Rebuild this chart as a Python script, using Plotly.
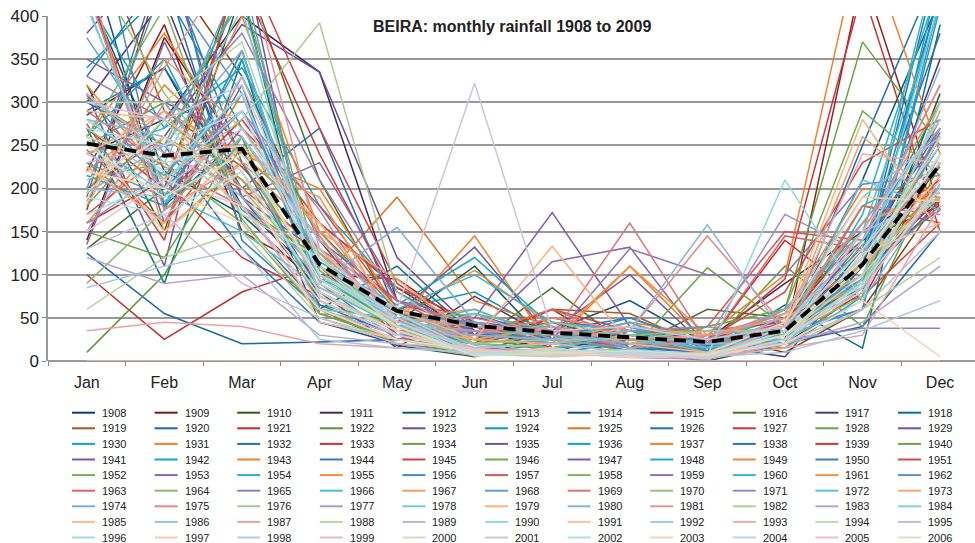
import plotly.graph_objects as go

months = ["Jan", "Feb", "Mar", "Apr", "May", "Jun", "Jul", "Aug", "Sep", "Oct", "Nov", "Dec"]
years = list(range(1908, 2007))

rain = {
1908: [285, 340, 180, 95, 40, 12, 8, 12, 3, 30, 95, 260],
1909: [140, 375, 240, 160, 85, 30, 45, 20, 15, 60, 140, 180],
1910: [320, 150, 430, 60, 18, 5, 30, 10, 0, 20, 80, 310],
1911: [240, 280, 400, 335, 70, 40, 10, 35, 25, 90, 150, 200],
1912: [430, 220, 170, 85, 45, 110, 15, 25, 12, 35, 210, 420],
1913: [175, 460, 330, 140, 30, 25, 60, 5, 30, 10, 60, 190],
1914: [480, 180, 260, 45, 20, 10, 35, 70, 20, 40, 120, 280],
1915: [220, 390, 150, 100, 95, 35, 20, 30, 10, 25, 450, 175],
1916: [130, 200, 460, 210, 50, 20, 85, 15, 60, 50, 90, 230],
1917: [300, 420, 190, 80, 15, 75, 25, 40, 18, 5, 110, 350],
1918: [270, 90, 350, 60, 110, 30, 10, 20, 8, 65, 15, 390],
1919: [520, 290, 225, 130, 40, 20, 60, 55, 15, 30, 180, 160],
1920: [125, 55, 20, 22, 25, 15, 12, 8, 10, 20, 40, 150],
1921: [100, 25, 80, 110, 30, 45, 35, 25, 20, 140, 70, 240],
1922: [10, 100, 250, 65, 45, 25, 15, 30, 12, 40, 160, 270],
1923: [200, 260, 390, 335, 120, 35, 20, 25, 15, 35, 100, 190],
1924: [340, 430, 270, 150, 60, 80, 30, 12, 25, 50, 130, 300],
1925: [230, 160, 310, 90, 190, 70, 40, 20, 30, 15, 85, 215],
1926: [290, 340, 200, 270, 55, 30, 25, 45, 10, 30, 250, 460],
1927: [160, 210, 120, 75, 35, 20, 50, 30, 20, 95, 430, 150],
1928: [250, 300, 180, 120, 40, 15, 20, 10, 40, 60, 370, 250],
1929: [310, 110, 480, 55, 25, 50, 35, 100, 15, 25, 115, 175],
1930: [420, 270, 340, 180, 80, 30, 25, 20, 12, 40, 90, 430],
1931: [195, 320, 230, 100, 45, 145, 15, 30, 25, 55, 200, 190],
1932: [330, 450, 160, 65, 30, 20, 40, 15, 10, 20, 130, 380],
1933: [270, 200, 440, 240, 70, 35, 30, 25, 35, 45, 150, 210],
1934: [150, 120, 260, 60, 20, 10, 20, 40, 15, 110, 40, 230],
1935: [380, 480, 190, 125, 55, 132, 25, 20, 30, 30, 140, 260],
1936: [215, 180, 360, 90, 40, 25, 45, 35, 12, 15, 75, 450],
1937: [260, 380, 240, 200, 60, 40, 20, 110, 20, 60, 160, 200],
1938: [300, 250, 130, 45, 25, 30, 35, 50, 18, 35, 110, 470],
1939: [435, 190, 280, 160, 85, 45, 15, 30, 10, 25, 95, 185],
1940: [180, 280, 210, 100, 40, 20, 30, 10, 108, 40, 180, 225],
1941: [440, 160, 320, 70, 30, 55, 25, 20, 15, 50, 130, 270],
1942: [260, 350, 175, 115, 65, 120, 40, 25, 25, 30, 60, 420],
1943: [320, 210, 400, 150, 50, 25, 20, 45, 30, 100, 500, 240],
1944: [190, 470, 230, 80, 35, 40, 30, 15, 12, 20, 110, 430],
1945: [275, 140, 470, 270, 90, 30, 60, 35, 20, 45, 75, 160],
1946: [210, 230, 160, 55, 25, 15, 20, 30, 40, 60, 290, 215],
1947: [350, 300, 260, 140, 70, 50, 172, 40, 15, 35, 120, 250],
1948: [230, 190, 350, 95, 45, 20, 15, 20, 30, 40, 100, 180],
1949: [160, 260, 210, 125, 55, 105, 40, 25, 10, 25, 150, 300],
1950: [400, 510, 140, 60, 30, 35, 25, 50, 20, 40, 85, 210],
1951: [245, 160, 270, 180, 60, 25, 30, 15, 25, 80, 230, 280],
1952: [305, 250, 430, 105, 40, 45, 20, 35, 35, 30, 135, 190],
1953: [135, 370, 190, 230, 80, 30, 115, 132, 15, 45, 95, 265],
1954: [280, 215, 310, 75, 35, 20, 15, 30, 20, 20, 170, 440],
1955: [220, 290, 240, 160, 50, 60, 25, 110, 30, 55, 110, 200],
1956: [560, 175, 360, 90, 25, 40, 40, 20, 12, 35, 60, 410],
1957: [170, 240, 200, 130, 70, 25, 20, 30, 40, 150, 140, 320],
1958: [260, 410, 165, 55, 45, 55, 35, 15, 25, 25, 90, 240],
1959: [310, 200, 290, 145, 30, 30, 25, 130, 100, 100, 205, 215],
1960: [240, 270, 420, 95, 60, 100, 45, 35, 20, 30, 120, 480],
1961: [450, 150, 230, 190, 40, 35, 30, 20, 30, 50, 160, 195],
1962: [200, 440, 310, 110, 55, 45, 20, 40, 10, 35, 95, 270],
1963: [290, 225, 180, 60, 25, 30, 60, 25, 20, 145, 130, 225],
1964: [90, 175, 260, 125, 35, 20, 15, 30, 35, 30, 75, 300],
1965: [330, 280, 380, 210, 70, 40, 35, 15, 25, 25, 38, 38],
1966: [255, 195, 150, 85, 40, 60, 25, 45, 15, 60, 150, 410],
1967: [185, 350, 270, 150, 95, 25, 40, 20, 30, 40, 260, 185],
1968: [375, 240, 450, 70, 30, 35, 20, 35, 40, 20, 110, 250],
1969: [225, 160, 330, 120, 45, 50, 30, 160, 20, 35, 180, 170],
1970: [470, 310, 200, 100, 60, 20, 45, 30, 10, 45, 90, 290],
1971: [160, 220, 290, 175, 35, 30, 25, 15, 25, 170, 125, 230],
1972: [415, 185, 250, 60, 50, 40, 35, 25, 15, 30, 210, 175],
1973: [240, 290, 170, 130, 40, 25, 20, 40, 30, 50, 100, 260],
1974: [195, 250, 360, 90, 155, 45, 30, 20, 20, 25, 70, 205],
1975: [430, 175, 230, 145, 35, 30, 50, 35, 145, 40, 140, 320],
1976: [270, 210, 280, 392, 80, 20, 25, 25, 35, 35, 115, 190],
1977: [150, 300, 180, 110, 45, 35, 40, 15, 25, 60, 160, 270],
1978: [310, 230, 410, 70, 30, 55, 20, 30, 20, 20, 95, 420],
1979: [225, 160, 250, 160, 60, 25, 133, 20, 10, 45, 280, 150],
1980: [280, 260, 190, 95, 40, 30, 25, 35, 158, 30, 120, 340],
1981: [180, 340, 480, 130, 50, 40, 35, 25, 30, 50, 85, 200],
1982: [60, 120, 150, 50, 25, 8, 5, 10, 4, 15, 60, 120],
1983: [120, 90, 100, 30, 20, 6, 10, 4, 2, 20, 45, 110],
1984: [410, 200, 330, 120, 45, 12, 8, 14, 6, 40, 140, 280],
1985: [290, 280, 220, 80, 35, 10, 15, 6, 5, 35, 110, 215],
1986: [200, 190, 260, 140, 55, 18, 9, 12, 4, 55, 190, 260],
1987: [35, 45, 40, 20, 15, 10, 8, 10, 5, 15, 30, 180],
1988: [300, 300, 370, 110, 40, 6, 12, 5, 8, 30, 90, 240],
1989: [230, 250, 180, 60, 30, 14, 6, 9, 3, 25, 150, 190],
1990: [170, 210, 290, 100, 50, 9, 14, 7, 6, 210, 70, 300],
1991: [260, 150, 220, 45, 25, 12, 5, 8, 10, 20, 125, 160],
1992: [85, 110, 130, 25, 15, 10, 10, 5, 5, 10, 35, 70],
1993: [310, 240, 250, 85, 45, 15, 8, 12, 4, 40, 240, 230],
1994: [195, 280, 170, 120, 35, 8, 12, 6, 7, 30, 100, 200],
1995: [130, 170, 90, 50, 20, 15, 20, 10, 10, 20, 60, 150],
1996: [280, 220, 310, 100, 55, 11, 7, 10, 5, 35, 130, 250],
1997: [210, 260, 200, 75, 35, 7, 15, 4, 9, 45, 190, 185],
1998: [240, 200, 270, 130, 45, 13, 6, 8, 4, 25, 85, 240],
1999: [0, 0, 0, 0, 0, 0, 0, 0, 0, 0, 0, 0],
2000: [260, 230, 250, 90, 40, 9, 12, 6, 8, 30, 110, 260],
2001: [300, 280, 320, 120, 60, 322, 35, 40, 25, 40, 150, 280],
2002: [190, 170, 220, 80, 30, 10, 6, 9, 3, 25, 90, 200],
2003: [220, 200, 160, 60, 25, 12, 10, 5, 6, 20, 70, 5],
2004: [270, 250, 290, 100, 45, 8, 14, 10, 5, 35, 130, 230],
2005: [150, 210, 180, 70, 30, 14, 7, 6, 4, 30, 80, 210],
2006: [250, 190, 240, 95, 40, 6, 9, 12, 7, 30, 120, 240],
}

average = [252, 238, 246, 112, 58, 41, 33, 28, 22, 35, 112, 228]

# colour scheme: six hues cycling, shade changing every six series
base_hues = [(31, 112, 185), (212, 48, 48), (100, 165, 60),
             (118, 82, 160), (10, 168, 195), (245, 125, 35)]
shades = [-0.45, -0.3, -0.08, 0, 0, 0.03, 0.08, 0.12, 0.18, 0.25,
          0.32, 0.42, 0.48, 0.55, 0.6, 0.65, 0.7]


def colour(i):
    r, g, b = base_hues[i % 6]
    s = shades[i // 6]
    if s < 0:
        f = 1 + s
        r, g, b = r * f, g * f, b * f
    else:
        r, g, b = r + (255 - r) * s, g + (255 - g) * s, b + (255 - b) * s
    return "rgb(%d,%d,%d)" % (r, g, b)


fig = go.Figure()
for i, y in enumerate(years):
    fig.add_trace(go.Scatter(x=months, y=rain[y], mode="lines", name=str(y),
                             line=dict(color=colour(i), width=1.5),
                             showlegend=False, hoverinfo="skip"))

fig.add_trace(go.Scatter(x=months, y=average, mode="lines", name="average",
                         line=dict(color="black", width=3.8, dash="12px,7px"),
                         showlegend=False))

W, H = 975, 543
L, R, T, B = 48, 975, 16, 361


def px2paper(px, py):
    return (px - L) / (R - L), (B - py) / (B - T)


shapes = []
annotations = []
ncol = 11
for i, y in enumerate(years):
    row, col = i // ncol, i % ncol
    x0 = 72 + col * 82.6
    yy = 412.7 + row * 15.6
    ax0, ay = px2paper(x0, yy)
    ax1, _ = px2paper(x0 + 23, yy)
    shapes.append(dict(type="line", xref="paper", yref="paper", x0=ax0, x1=ax1,
                       y0=ay, y1=ay, line=dict(color=colour(i), width=2)))
    tx, _ = px2paper(x0 + 28, yy)
    annotations.append(dict(x=tx, y=ay, xref="paper", yref="paper", text=str(y),
                            showarrow=False, xanchor="left", yanchor="middle",
                            font=dict(size=11, color="#222", family="Arial")))

tx, ty = px2paper(371, 27)
annotations.append(dict(x=tx, y=ty, xref="paper", yref="paper",
                        text="<b>BEIRA: monthly rainfall 1908 to 2009</b>",
                        showarrow=False, xanchor="left", yanchor="middle",
                        font=dict(size=16, color="#222", family="Arial")))

fig.update_layout(
    width=W, height=H,
    margin=dict(l=L, r=W - R, t=T, b=H - B, pad=0),
    paper_bgcolor="white", plot_bgcolor="white",
    font=dict(family="Arial", color="#222"),
    shapes=shapes, annotations=annotations,
    showlegend=False,
)
fig.update_xaxes(type="category", range=[-0.5, 11.45], showgrid=False,
                 tickson="boundaries", ticks="outside", ticklen=4, tickcolor="#888",
                 showline=False, tickfont=dict(size=16, family="Arial", color="#222"),
                 ticklabelstandoff=10)
fig.update_yaxes(range=[0, 400], dtick=50, showgrid=True, gridcolor="#999",
                 gridwidth=1.5, showline=True, linecolor="#999", linewidth=1.5,
                 ticks="outside", ticklen=4, tickcolor="#888", zeroline=True,
                 zerolinecolor="#999", zerolinewidth=1.5,
                 tickfont=dict(size=17, family="Arial", color="#222"))

fig.write_html("out.html")
